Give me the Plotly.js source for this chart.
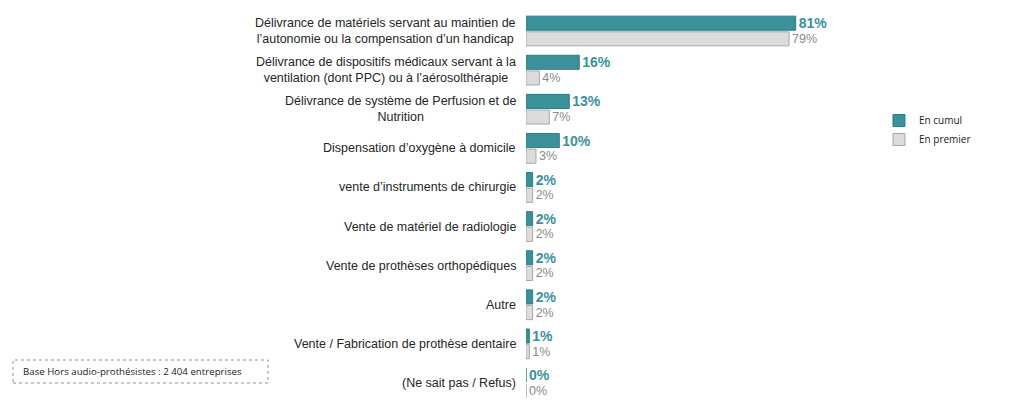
<!DOCTYPE html>
<html>
<head>
<meta charset="utf-8">
<script src="https://cdn.plot.ly/plotly-3.0.1.min.js"></script>
<style>html,body{margin:0;padding:0;background:#fff;}#chart{width:1024px;height:400px;}</style>
</head>
<body>
<div id="chart"></div>
<script>
const categories = [
  "Délivrance de matériels servant au maintien de<br>l’autonomie ou la compensation d’un handicap",
  "Délivrance de dispositifs médicaux servant à la<br>ventilation (dont PPC) ou à l’aérosolthérapie",
  "Délivrance de système de Perfusion et de<br>Nutrition",
  "Dispensation d’oxygène à domicile",
  "vente d’instruments de chirurgie",
  "Vente de matériel de radiologie",
  "Vente de prothèses orthopédiques",
  "Autre",
  "Vente / Fabrication de prothèse dentaire",
  "(Ne sait pas / Refus)"
];
const enCumul = [81, 16, 13, 10, 2, 2, 2, 2, 1, 0];
const enPremier = [79, 4, 7, 3, 2, 2, 2, 2, 1, 0];
const seriesNames = ["En cumul", "En premier"];
const baseNote = "Base Hors audio-prothésistes : 2 404 entreprises";

const idx = categories.map((c, i) => i);

const traces = [
  {
    type: 'bar', orientation: 'h', name: seriesNames[0],
    y: idx, x: enCumul,
    marker: {color: '#3a9199', line: {color: '#2f7f86', width: 1}},
    text: enCumul.map(v => v + '%'), textposition: 'outside', cliponaxis: false,
    constraintext: 'none',
    textfont: {family: 'Liberation Sans, Arial, sans-serif', size: 14, color: '#3a9199', weight: 'bold'},
    hoverinfo: 'skip'
  },
  {
    type: 'bar', orientation: 'h', name: seriesNames[1],
    y: idx, x: enPremier,
    marker: {color: '#dcdcdc', line: {color: '#a8a8a8', width: 1}},
    text: enPremier.map(v => v + '%'), textposition: 'outside', cliponaxis: false,
    constraintext: 'none',
    textfont: {family: 'Liberation Sans, Arial, sans-serif', size: 12.5, color: '#8a8a8a'},
    hoverinfo: 'skip'
  }
];

const annotations = categories.map((c, i) => ({
  xref: 'paper', yref: 'y', x: 0, y: i, xanchor: 'right', yanchor: 'middle',
  xshift: -8, text: c, showarrow: false, align: 'center',
  font: {family: 'Liberation Sans, Arial, sans-serif', size: 12.5, color: '#262626'}
}));
annotations.push({
  xref: 'paper', yref: 'paper', x: -1.518, y: 0.071, xanchor: 'left', yanchor: 'middle',
  text: baseNote, showarrow: false,
  font: {family: 'Open Sans, sans-serif', size: 9.7, color: '#222'}
});

const layout = {
  width: 1024, height: 400,
  margin: {l: 526, r: 165, t: 0, b: 0, pad: 0},
  paper_bgcolor: '#fff', plot_bgcolor: '#fff',
  barmode: 'group', bargap: 0.2, bargroupgap: 0.1,
  xaxis: {range: [0, 100], visible: false, fixedrange: true},
  yaxis: {range: [9.435, -0.793], visible: false, fixedrange: true},
  showlegend: true,
  legend: {
    x: 1.06, y: 0.735, xanchor: 'left', yanchor: 'top',
    font: {family: 'Open Sans, sans-serif', size: 10, color: '#222'},
    itemwidth: 30, tracegroupgap: 0, bgcolor: 'rgba(0,0,0,0)'
  },
  shapes: [{
    type: 'rect', xref: 'paper', yref: 'paper',
    x0: -1.5405, x1: -0.7748, y0: 0.0425, y1: 0.1,
    line: {color: '#7f98a3', width: 1, dash: 'dot'}, fillcolor: 'rgba(0,0,0,0)'
  }],
  annotations: annotations
};

Plotly.newPlot('chart', traces, layout, {staticPlot: true, displayModeBar: false});
</script>
</body>
</html>
